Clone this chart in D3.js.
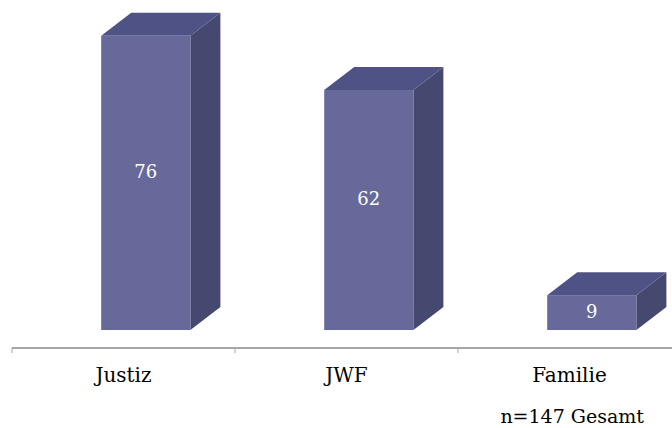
<!DOCTYPE html>
<html>
<head>
<meta charset="utf-8">
<script src="https://cdn.jsdelivr.net/npm/d3@7"></script>
<style>
  html, body { margin: 0; padding: 0; background: #ffffff; }
  svg { display: block; }
</style>
</head>
<body>
<svg id="chart" width="672" height="428"></svg>
<script>
// Fälle nach Bereich
const categories = ["Justiz", "JWF", "Familie"];
const values = [76, 62, 9];
const footnote = "n=147 Gesamt";

const W = 672, H = 428;
const svg = d3.select("#chart");

const baseY = 330;
const x = d3.scaleBand().domain(categories).range([12, 681]).padding(0);
const y = d3.scaleLinear().domain([0, 85]).range([baseY, 1]);

const depthX = 30, depthY = 23;
const colFront = "#67699a", colTop = "#4f5285", colSide = "#45486f";

const bw = x.bandwidth();
const frontOffset = bw * 0.4, frontWidth = bw * 0.4;

const bars = svg.append("g").selectAll("g.bar")
  .data(categories.map((c, i) => ({ c, v: values[i] })))
  .join("g").attr("class", "bar");

// side face
bars.append("path")
  .attr("fill", colSide)
  .attr("d", d => {
    const x1 = x(d.c) + frontOffset + frontWidth, yt = y(d.v);
    return `M${x1},${yt} L${x1 + depthX},${yt - depthY} L${x1 + depthX},${baseY - depthY} L${x1},${baseY} Z`;
  });

// top face
bars.append("path")
  .attr("fill", colTop)
  .attr("d", d => {
    const x0 = x(d.c) + frontOffset, x1 = x0 + frontWidth, yt = y(d.v);
    return `M${x0},${yt} L${x0 + depthX},${yt - depthY} L${x1 + depthX},${yt - depthY} L${x1},${yt} Z`;
  });

// front face
bars.append("rect")
  .attr("fill", colFront)
  .attr("x", d => x(d.c) + frontOffset)
  .attr("y", d => y(d.v))
  .attr("width", frontWidth)
  .attr("height", d => baseY - y(d.v));

// value labels
bars.append("text")
  .attr("x", d => x(d.c) + frontOffset + frontWidth / 2)
  .attr("y", d => Math.max((y(d.v) - depthY + baseY) / 2, y(d.v) + 17))
  .attr("dy", "0.35em")
  .attr("text-anchor", "middle")
  .attr("fill", "#ffffff")
  .attr("font-family", "'DejaVu Serif', serif")
  .attr("font-size", 18)
  .text(d => d.v);

// category axis
const axisY = 348;
const axis = svg.append("g");
axis.append("line")
  .attr("x1", 12).attr("x2", W).attr("y1", axisY).attr("y2", axisY)
  .attr("stroke", "#a6a6a6").attr("stroke-width", 2);
axis.selectAll("line.tick")
  .data(categories.concat(["__end"]))
  .join("line").attr("class", "tick")
  .attr("x1", (d, i) => i < categories.length ? x(d) : x.range()[1])
  .attr("x2", (d, i) => i < categories.length ? x(d) : x.range()[1])
  .attr("y1", axisY).attr("y2", axisY + 5)
  .attr("stroke", "#a6a6a6").attr("stroke-width", 1);

axis.selectAll("text.cat")
  .data(categories)
  .join("text").attr("class", "cat")
  .attr("x", d => x(d) + bw / 2)
  .attr("y", 382)
  .attr("text-anchor", "middle")
  .attr("fill", "#000000")
  .attr("font-family", "'DejaVu Serif', serif")
  .attr("font-size", 20)
  .text(d => d);

svg.append("text")
  .attr("x", 644).attr("y", 423)
  .attr("text-anchor", "end")
  .attr("fill", "#000000")
  .attr("font-family", "'DejaVu Serif', serif")
  .attr("font-size", 19)
  .text(footnote);
</script>
</body>
</html>
